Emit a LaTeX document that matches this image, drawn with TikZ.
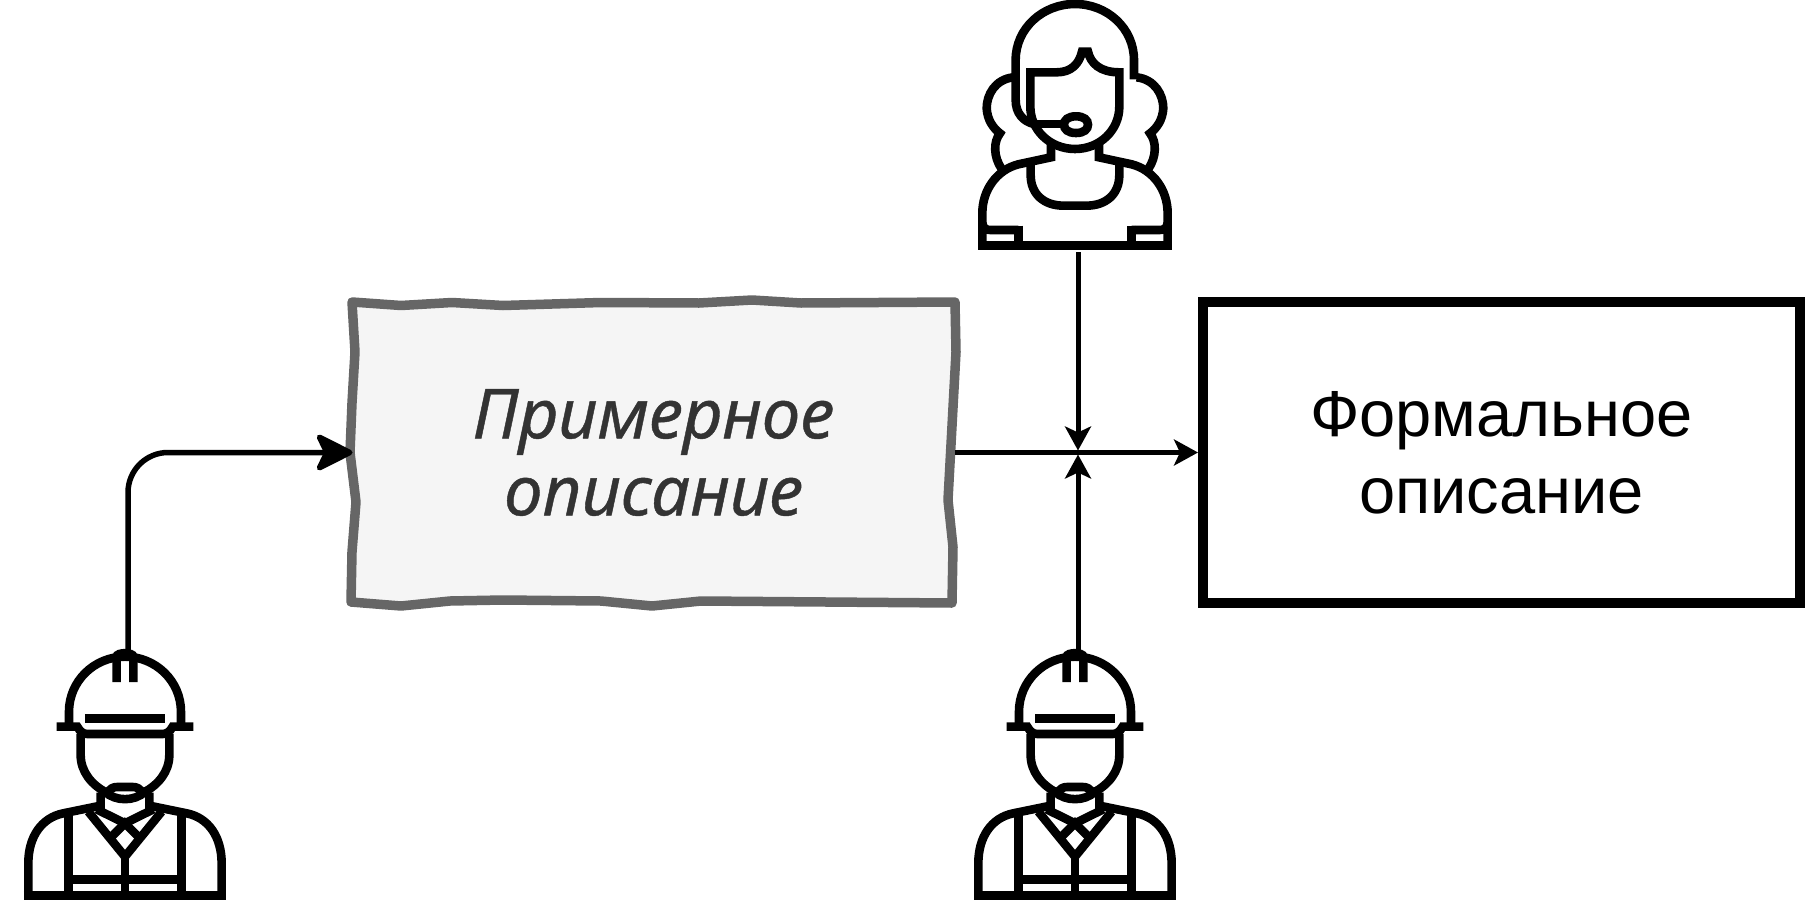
\documentclass[tikz,border=0pt]{standalone}
\usepackage{fontspec}
\setmainfont{Liberation Sans}
\newfontfamily\handfont[ItalicFont=* Italic,ItalicFeatures={FakeBold=0.6}]{Noto Sans}
\usetikzlibrary{arrows.meta,positioning,calc}
\definecolor{roughgray}{HTML}{666666}
\definecolor{roughfill}{HTML}{F5F5F5}
\definecolor{roughtext}{HTML}{333333}
\tikzset{
    iconbox/.style={inner sep=0pt,outer sep=0pt,minimum width=200pt,minimum height=255pt},
    iconline/.style={line width=8.6pt,black},
    flowline/.style={line width=5pt,-{Stealth[length=24pt,width=26pt,inset=6pt]}},
    roughline/.style={line width=5.5pt,rounded corners=40pt,-{Stealth[length=42pt,width=42pt,inset=10pt,round]}},
    roughbox/.style={line width=9.5pt,draw=roughgray,fill=roughfill,line join=round},
    worker/.pic={
        \begin{scope}[x=0.3333pt,y=-0.3333pt]
            % helmet
            \draw[iconline] (207,255) -- (207,215) .. controls (207,124) and (282,50) .. (375,50) .. controls (468,50) and (543,124) .. (543,215) -- (543,255);
            \draw[iconline] (350,126) -- (350,50) .. controls (350,36) and (400,36) .. (400,50) -- (400,126);
            \draw[iconline] (170,260) -- (232,260) .. controls (240,275) and (250,282) .. (262,282) -- (488,282) .. controls (500,282) and (510,275) .. (518,260) -- (580,260);
            \draw[iconline] (255,235) -- (495,235);
            % face and beard
            \draw[iconline] (242,282) -- (242,345) .. controls (242,395) and (275,435) .. (320,458);
            \draw[iconline] (508,282) -- (508,345) .. controls (508,395) and (475,435) .. (430,458);
            \draw[iconline] (320,462) .. controls (330,445) and (340,441) .. (352,441) -- (398,441) .. controls (410,441) and (420,445) .. (430,462);
            \draw[iconline] (315,455) .. controls (345,485) and (405,485) .. (435,455);
            % neck and shoulders
            \draw[iconline] (302,458) -- (302,497) -- (190,520) .. controls (125,533) and (85,590) .. (85,670) -- (85,767);
            \draw[iconline] (448,458) -- (448,497) -- (560,520) .. controls (625,533) and (665,590) .. (665,670) -- (665,767);
            \draw[iconline] (72,767) -- (677,767);
            % vest
            \draw[iconline] (205,528) -- (205,767);
            \draw[iconline] (545,528) -- (545,767);
            \draw[iconline] (205,718) -- (545,718);
            \draw[iconline] (375,650) -- (375,767);
            \draw[iconline] (265,515) -- (375,650) -- (485,515);
            \draw[iconline] (290,508) -- (375,550) -- (460,508);
            \draw[iconline] (335,590) -- (375,550) -- (415,590);
        \end{scope}
    },
    operator/.pic={
        \begin{scope}[x=0.3333pt,y=-0.3333pt]
            % hair
            \draw[iconline] (522,238) -- (522,180) .. controls (522,85) and (442,12) .. (345,12) .. controls (248,12) and (167,85) .. (167,180) -- (167,300) .. controls (167,340) and (190,365) .. (222,372);
            \draw[iconline] (160,232) .. controls (105,238) and (80,285) .. (80,325) .. controls (82,360) and (100,385) .. (120,400) .. controls (100,425) and (100,470) .. (125,507);
            \draw[iconline] (530,232) .. controls (585,238) and (610,285) .. (610,325) .. controls (608,360) and (590,385) .. (570,400) .. controls (590,425) and (590,470) .. (565,507);
            % face and headset
            \draw[iconline] (211,320) -- (211,217) -- (290,217) .. controls (335,217) and (358,190) .. (366,155) -- (384,155) .. controls (392,190) and (420,217) .. (478,217) -- (478,320) .. controls (478,390) and (420,447) .. (345,447) .. controls (270,447) and (211,390) .. (211,320);
            \draw[iconline] (225,372) -- (312,372);
            \draw[iconline] (348,349) .. controls (372,349) and (384,360) .. (384,374) .. controls (384,388) and (372,399) .. (348,399) .. controls (324,399) and (312,388) .. (312,374) .. controls (312,360) and (324,349) .. (348,349) -- cycle;
            % neck and shoulders
            \draw[iconline] (273,425) -- (273,472) -- (175,493) .. controls (110,510) and (67,570) .. (67,640) -- (67,737);
            \draw[iconline] (417,425) -- (417,472) -- (515,493) .. controls (580,510) and (623,570) .. (623,640) -- (623,737);
            \draw[iconline] (212,495) -- (212,525) .. controls (212,585) and (255,617) .. (310,617) -- (380,617) .. controls (435,617) and (478,585) .. (478,525) -- (478,495);
            % sleeves and bottom
            \draw[iconline] (55,737) -- (635,737);
            \draw[iconline] (67,670) .. controls (70,685) and (78,690) .. (90,690) -- (175,690);
            \draw[iconline] (175,677) -- (175,737);
            \draw[iconline] (623,670) .. controls (620,685) and (612,690) .. (600,690) -- (515,690);
            \draw[iconline] (515,677) -- (515,737);
        \end{scope}
    }
}
\begin{document}
\begin{tikzpicture}[x=1pt,y=-1pt]
    \useasboundingbox (0,0) rectangle (1810,905);
    % draw the rough box
    \draw[roughbox] (352,302) -- (401,305.5) -- (452,302.5) -- (503,305.5) -- (601,302.5) -- (699,303) -- (752,300) -- (801,303) -- (955,302)
        -- (956,352) -- (948,500) -- (953,547) -- (952,603)
        -- (701,601) -- (652,606) -- (601,601) -- (503,600) -- (450,601) -- (401,606) -- (351,602)
        -- (352,552) -- (356,502) -- (350,452.5) -- (352,403) -- (355,352) -- cycle;
    \node[inner sep=0pt,outer sep=0pt,minimum width=602pt,minimum height=301pt,align=center,text=roughtext,
        font=\handfont\itshape\fontsize{69}{77}\selectfont] (approx) at (653.5,452.5) {Примерное\\описание};
    % draw the formal box
    \node[draw=black,line width=10pt,minimum width=597pt,minimum height=301pt,inner sep=0pt,align=center,
        font=\fontsize{65}{77}\selectfont] (formal) at (1501.5,452.5) {Формальное\\описание};
    % draw the people
    \foreach \wname/\wx in {workerA/128,workerB/1078}
    {
        \node[iconbox] (\wname) at (\wx,777.5) {};
        \pic at (\wx-128,640) {worker};
    }
    \node[iconbox,minimum height=252pt] (clerk) at (1078,126) {};
    \pic at (960,0) {operator};
    % draw the arrows
    \coordinate (cross) at (clerk.south |- approx.east);
    \draw[flowline] (approx.east) -- (formal.west);
    \draw[flowline,shorten >=2pt] (clerk.south) -- (cross);
    \draw[flowline,shorten >=2pt] (workerB.north) -- (cross);
    \draw[roughline] (workerA.north) |- (approx.west);
\end{tikzpicture}
\end{document}
